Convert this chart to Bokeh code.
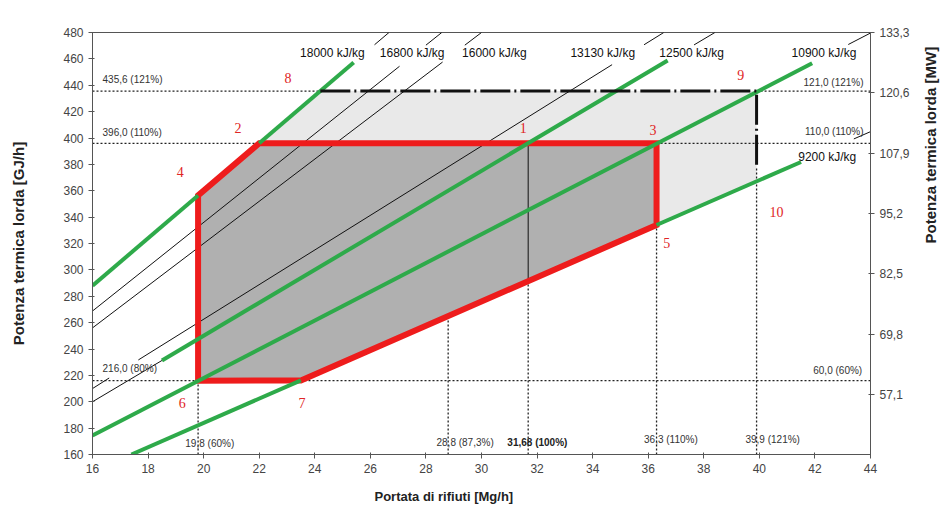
import math
from bokeh.plotting import figure
from bokeh.models import ColumnDataSource, Range1d, LinearAxis, FixedTicker, Title
from bokeh.embed import file_html
from bokeh.resources import INLINE
from bokeh.core.properties import value

# ---------------- data ----------------
x_ticks = list(range(16, 46, 2))
y_ticks = list(range(160, 500, 20))
mw_ticks = [44.4, 57.1, 69.8, 82.5, 95.2, 107.9, 120.6, 133.3]
mw_labels = ["44,4", "57,1", "69,8", "82,5", "95,2", "107,9", "120,6", "133,3"]

# operating envelope (red) : points 6, 4, 2, 3, 5, 7
env_flow = [19.8, 19.8, 22.0, 36.3, 36.3, 23.5]
env_power = [216.0, 356.4, 396.0, 396.0, 334.0, 216.2]

# extended (overload) area : points 2, 8, 9, 10, 5, 3
ext_flow = [22.0, 24.2, 39.9, 39.9, 36.3, 36.3]
ext_power = [396.0, 435.6, 435.6, 367.1, 334.0, 396.0]

# green LHV lines (18000, 18000, 12500, 10900, 9200, 9200 kJ/kg)
green_x0 = [16.0, 22.0, 18.5, 16.0, 17.4, 36.3]
green_y0 = [288.0, 396.0, 231.3, 174.4, 160.0, 334.0]
green_x1 = [19.8, 25.4, 36.7, 41.9, 23.5, 41.5]
green_y1 = [356.4, 457.2, 458.8, 456.7, 216.2, 381.8]

# thin black LHV lines
black_x0 = [16.0, 28.0, 16.0, 29.4, 26.15, 16.0, 17.65, 35.85, 16.0, 37.65, 43.2, 43.4]
black_y0 = [268.8, 470.4, 256.0, 470.4, 470.7, 210.0, 231.7, 470.7, 200.0, 470.6, 470.9, 399.3]
black_x1 = [27.05, 28.57, 28.6, 30.0, 26.67, 16.6, 34.7, 36.56, 18.5, 38.4, 44.0, 44.0]
black_y1 = [454.4, 480.0, 457.6, 480.0, 480.0, 218.0, 455.6, 480.0, 231.3, 480.0, 479.6, 404.8]

# dotted reference lines
dot_x0 = [16.0, 39.9, 16.0, 36.3, 16.0, 19.8, 28.8, 31.68, 36.3, 39.9]
dot_y0 = [435.6, 435.6, 396.0, 396.0, 216.0, 160.0, 160.0, 160.0, 160.0, 160.0]
dot_x1 = [24.2, 44.0, 22.0, 44.0, 44.0, 19.8, 28.8, 31.68, 36.3, 39.9]
dot_y1 = [435.6, 435.6, 396.0, 396.0, 216.0, 216.0, 264.4, 290.8, 334.0, 378.0]

# solid thin vertical at nominal point
nom_x = [31.68, 31.68]
nom_y = [290.8, 396.0]

# heavy dash-dot limit (121%)
lim_x = [24.2, 39.9, 39.9]
lim_y = [435.6, 435.6, 378.0]

# LHV labels
lhv_text = ["18000 kJ/kg", "16800 kJ/kg", "16000 kJ/kg", "13130 kJ/kg",
            "12500 kJ/kg", "10900 kJ/kg", "9200 kJ/kg"]
lhv_x = [23.47, 26.34, 29.3, 33.2, 36.4, 41.16, 41.4]
lhv_y = [464.7, 464.7, 464.7, 464.7, 464.7, 464.7, 385.7]

# reference value labels (left aligned)
refl_text = ["435,6 (121%)", "396,0 (110%)", "216,0 (80%)",
             "19,8 (60%)", "28,8 (87,3%)", "36,3 (110%)", "39,9 (121%)"]
refl_x = [16.36, 16.36, 16.36, 19.34, 28.38, 35.85, 39.5]
refl_y = [444.0, 404.2, 225.3, 168.6, 169.0, 171.0, 171.0]

# reference value labels (right aligned)
refr_text = ["121,0 (121%)", "110,0 (110%)", "60,0 (60%)"]
refr_x = [43.75, 43.75, 43.7]
refr_y = [441.9, 404.7, 223.8]

nominal_text = ["31,68 (100%)"]
nominal_x = [30.93]
nominal_y = [169.0]

# point numbers
pt_text = ["8", "2", "4", "1", "3", "9", "10", "5", "6", "7"]
pt_x = [23.04, 21.24, 19.16, 31.5, 36.17, 39.33, 40.62, 36.67, 19.23, 23.54]
pt_y = [445.7, 407.7, 374.3, 407.7, 406.2, 448.0, 343.9, 320.3, 198.8, 198.8]

# axis titles
x_title = "Portata di rifiuti [Mg/h]"
y_title = "Potenza termica lorda [GJ/h]"
y2_title = "Potenza termica lorda [MW]"

# ---------------- figure ----------------
SANS = "Liberation Sans"

p = figure(width=950, height=515, output_backend="svg", toolbar_location=None,
           x_range=Range1d(16, 44), y_range=Range1d(160, 480),
           min_border_left=92, min_border_right=78, min_border_top=32,
           min_border_bottom=61, background_fill_color="white")
p.grid.visible = False
p.outline_line_color = "#555555"
p.outline_line_width = 1

p.extra_y_ranges = {"mw": Range1d(160 / 3.6, 480 / 3.6)}
raxis = LinearAxis(y_range_name="mw")
p.add_layout(raxis, "right")

for ax in (p.xaxis[0], p.yaxis[0], raxis):
    ax.major_label_text_font = SANS
    ax.major_label_text_font_size = "12px"
    ax.major_label_text_color = "#444444"
    ax.axis_line_color = "#555555"
    ax.major_tick_line_color = "#555555"
    ax.major_tick_out = 4
    ax.major_tick_in = 2
    ax.minor_tick_line_color = None
    ax.axis_label_text_font = SANS
    ax.axis_label_text_font_style = "bold"
    ax.axis_label_text_font_size = "15px"
    ax.axis_label_text_color = "#222222"

p.xaxis[0].ticker = FixedTicker(ticks=x_ticks)
p.yaxis[0].ticker = FixedTicker(ticks=y_ticks)
raxis.ticker = FixedTicker(ticks=mw_ticks)
raxis.major_label_overrides = {t: l for t, l in zip(mw_ticks, mw_labels)}

p.yaxis[0].axis_label = y_title
p.yaxis[0].axis_label_standoff = 33
raxis.axis_label = y2_title
raxis.axis_label_standoff = 18
if "axis_label_orientation" in raxis.properties():
    raxis.axis_label_orientation = math.pi / 2

# bottom title, shifted left as in the original
p.add_layout(Title(text=x_title, align="left", offset=282, standoff=22,
                   text_font=SANS, text_font_style="bold", text_font_size="13px",
                   text_color="#222222"), "below")

# fills
p.patch(ext_flow, ext_power, fill_color="#e9e9e9", line_color=None)
p.patch(env_flow, env_power, fill_color="#b0b0b0", line_color=None)

# dotted reference lines
p.segment(x0="x0", y0="y0", x1="x1", y1="y1",
          source=ColumnDataSource(dict(x0=dot_x0, y0=dot_y0, x1=dot_x1, y1=dot_y1)),
          line_color="#222222", line_width=1.3, line_dash="2 2")
p.line(nom_x, nom_y, line_color="#111111", line_width=1)

# thin black LHV lines
p.segment(x0="x0", y0="y0", x1="x1", y1="y1",
          source=ColumnDataSource(dict(x0=black_x0, y0=black_y0, x1=black_x1, y1=black_y1)),
          line_color="#111111", line_width=1)

# red envelope
p.patch(env_flow, env_power, fill_color=None, line_color="#ee1c1c",
        line_width=6, line_join="miter")

# green LHV lines
p.segment(x0="x0", y0="y0", x1="x1", y1="y1",
          source=ColumnDataSource(dict(x0=green_x0, y0=green_y0, x1=green_x1, y1=green_y1)),
          line_color="#2eaa4a", line_width=4)

# heavy limit line
p.line(lim_x, lim_y, line_color="#111111", line_width=3, line_dash="30 4 2 4")

# texts
p.text(x=lhv_x, y=lhv_y, text=lhv_text, text_font=value(SANS), text_font_size="12px",
       text_color="#111111", text_baseline="middle", text_align="left")
p.text(x=refl_x, y=refl_y, text=refl_text, text_font=value(SANS), text_font_size="10px",
       text_color="#333333", text_baseline="middle", text_align="left")
p.text(x=refr_x, y=refr_y, text=refr_text, text_font=value(SANS), text_font_size="10px",
       text_color="#333333", text_baseline="middle", text_align="right")
p.text(x=nominal_x, y=nominal_y, text=nominal_text, text_font=value(SANS), text_font_size="10px",
       text_font_style="bold", text_color="#222222", text_baseline="middle", text_align="left")
p.text(x=pt_x, y=pt_y, text=pt_text, text_font=value("Liberation Serif"), text_font_size="14px",
       text_color="#e02525", text_baseline="middle", text_align="center")

open("out.html", "w").write(file_html(p, INLINE))
